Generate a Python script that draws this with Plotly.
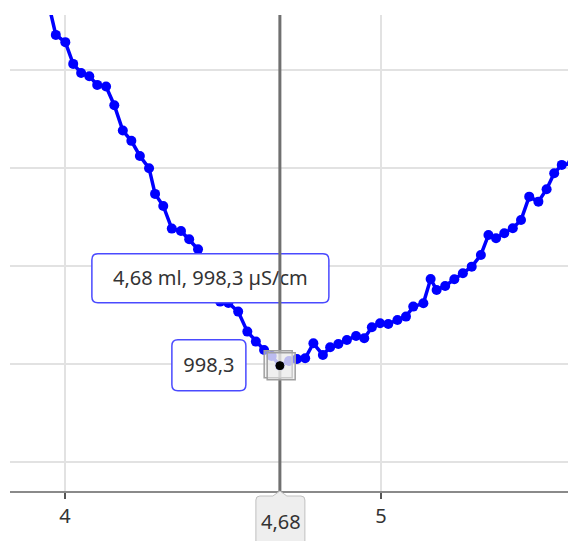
import plotly.graph_objects as go

# Titration data: volume (ml) and conductivity (µS/cm)
volume_ml = [3.945, 3.971, 4.001, 4.026, 4.051, 4.077, 4.102, 4.130, 4.156, 4.183,
             4.210, 4.237, 4.266, 4.285, 4.311, 4.338, 4.367, 4.393, 4.421, 4.448,
             4.472, 4.491, 4.517, 4.548, 4.577, 4.604, 4.630, 4.654, 4.680, 4.709,
             4.734, 4.760, 4.786, 4.816, 4.839, 4.865, 4.892, 4.921, 4.947, 4.971,
             4.997, 5.023, 5.052, 5.079, 5.102, 5.134, 5.157, 5.176, 5.203, 5.232,
             5.259, 5.287, 5.316, 5.340, 5.364, 5.390, 5.417, 5.443, 5.469, 5.498,
             5.524, 5.548, 5.572, 5.604, 5.630]
conductivity = [1371.4, 1335.7, 1328.3, 1306.1, 1296.9, 1293.6, 1284.7, 1283.0, 1264.0, 1238.1,
                1227.6, 1212.2, 1199.7, 1173.5, 1161.2, 1138.1, 1135.7, 1127.2, 1117.0, 1100.0,
                1080.6, 1063.6, 1062.2, 1053.4, 1033.0, 1022.8, 1014.3, 1008.2, 998.3, 1003.1,
                1005.1, 1005.8, 1021.1, 1009.2, 1017.0, 1020.4, 1024.5, 1028.6, 1026.2, 1037.4,
                1041.5, 1040.8, 1044.9, 1048.3, 1058.5, 1061.9, 1086.7, 1075.5, 1079.6, 1086.4,
                1092.6, 1099.3, 1111.2, 1131.6, 1128.3, 1133.4, 1138.5, 1146.9, 1170.7, 1165.6,
                1178.3, 1194.6, 1203.1, 1204.8, 1218.4]

# Selected (hovered) point
sel_x = 4.68
sel_y = 998.3
sel_label = "4,68 ml, 998,3 µS/cm"
sel_y_label = "998,3"
sel_x_label = "4,68"

x_ticks = [4, 5]
x_tick_text = ["4", "5"]

FONT = "Noto Sans, Open Sans, sans-serif"
FS = 20
BLUE = "#0000ff"


def rrect(x0, y0, x1, y1, r):
    return (f"M {x0+r},{y0} L {x1-r},{y0} Q {x1},{y0} {x1},{y0+r} "
            f"L {x1},{y1-r} Q {x1},{y1} {x1-r},{y1} L {x0+r},{y1} "
            f"Q {x0},{y1} {x0},{y1-r} L {x0},{y0+r} Q {x0},{y0} {x0+r},{y0} Z")


fig = go.Figure()
fig.add_trace(go.Scatter(
    x=volume_ml, y=conductivity, mode="lines+markers",
    line=dict(color=BLUE, width=3.5),
    marker=dict(color=BLUE, size=10),
    hoverinfo="skip", showlegend=False,
))

shapes = []
# Value box (x, y)
shapes.append(dict(type="path", xref="x", yref="y", xsizemode="pixel", ysizemode="pixel",
                   xanchor=sel_x, yanchor=sel_y,
                   path=rrect(-188, 63, 49, 112, 6),
                   line=dict(color="#4a4aff", width=1.5), fillcolor="white", layer="above",
                   label=dict(text=sel_label, textposition="middle center",
                              font=dict(family=FONT, size=FS, color="#333333"))))
# y value box
shapes.append(dict(type="path", xref="x", yref="y", xsizemode="pixel", ysizemode="pixel",
                   xanchor=sel_x, yanchor=sel_y,
                   path=rrect(-108, -25, -34, 26, 6),
                   line=dict(color="#4a4aff", width=1.5), fillcolor="white", layer="above",
                   label=dict(text=sel_y_label, textposition="middle center",
                              font=dict(family=FONT, size=FS, color="#333333"))))
# vertical cursor line
shapes.append(dict(type="line", xref="x", yref="paper", x0=sel_x, x1=sel_x, y0=0, y1=1,
                   line=dict(color="#707070", width=3), layer="above"))
# hover squares
for dx0, dy0 in [(-15.7, -12), (-12.7, -14)]:
    shapes.append(dict(type="rect", xref="x", yref="y", xsizemode="pixel", ysizemode="pixel",
                       xanchor=sel_x, yanchor=sel_y,
                       x0=dx0, x1=dx0 + 28, y0=dy0, y1=dy0 + 27,
                       line=dict(color="#a0a0a0", width=1.5),
                       fillcolor="rgba(235,235,235,0.55)", layer="above"))
# selected black dot
shapes.append(dict(type="circle", xref="x", yref="y", xsizemode="pixel", ysizemode="pixel",
                   xanchor=sel_x, yanchor=sel_y, x0=-4, x1=4, y0=-4, y1=4,
                   line=dict(color="black", width=1), fillcolor="black", layer="above"))
# x value callout on the axis
callout = ("M -20,-5 L -7,-5 L 0,0 L 7,-5 L 21,-5 Q 25,-5 25,-9 L 25,-60 "
           "L -24,-60 L -24,-9 Q -24,-5 -20,-5 Z")
shapes.append(dict(type="path", xref="x", yref="paper", xsizemode="pixel", ysizemode="pixel",
                   xanchor=sel_x, yanchor=0, path=callout,
                   line=dict(color="#c0c0c0", width=1), fillcolor="#eeeeee", layer="above"))

fig.update_layout(shapes=shapes)
fig.add_annotation(x=sel_x, y=0, xref="x", yref="paper", yanchor="middle", xanchor="center",
                   yshift=-30, xshift=1,
                   text=sel_x_label, showarrow=False,
                   font=dict(family=FONT, size=FS, color="#333333"))

fig.update_layout(
    width=576, height=541,
    margin=dict(l=2, r=8, t=7, b=58),
    paper_bgcolor="white", plot_bgcolor="white",
    font=dict(family=FONT, size=FS, color="#333333"),
    xaxis=dict(range=[3.826, 5.617], tickvals=x_ticks, ticktext=x_tick_text,
               showgrid=True, gridcolor="#e2e2e2", gridwidth=2,
               showline=True, linecolor="#8a8a8a", linewidth=2,
               ticks="outside", ticklen=6, tickwidth=2, tickcolor="#555555",
               zeroline=False, fixedrange=True),
    yaxis=dict(range=[870.4, 1356], tick0=900, dtick=100, showticklabels=False,
               showgrid=True, gridcolor="#e2e2e2", gridwidth=2,
               zeroline=False, showline=False, fixedrange=True),
)

fig.write_html("out.html")
